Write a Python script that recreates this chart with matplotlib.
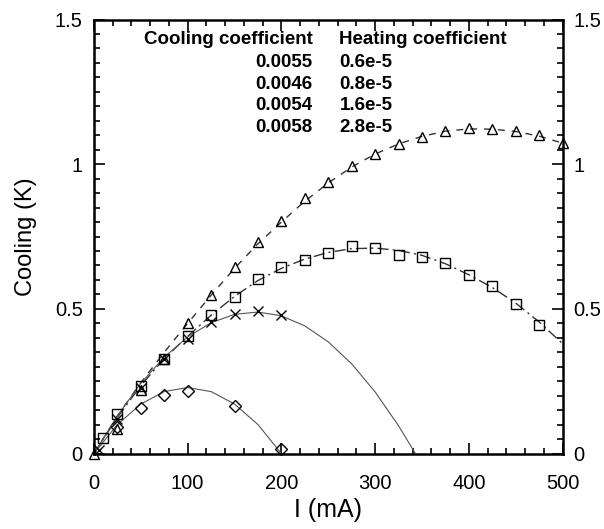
import matplotlib
matplotlib.use("Agg")
import matplotlib.pyplot as plt
from matplotlib.ticker import MultipleLocator, FuncFormatter

plt.rcParams['font.family'] = ['Liberation Sans', 'DejaVu Sans']

i_tri = [0, 25, 50, 75, 100, 125, 150, 175, 200, 225, 250, 275, 300, 325,
         350, 375, 400, 425, 450, 475, 500]
cool_tri = [0.0, 0.085, 0.22, 0.327, 0.452, 0.548, 0.644, 0.73, 0.802, 0.882,
            0.94, 0.994, 1.034, 1.069, 1.095, 1.115, 1.124, 1.122, 1.115,
            1.101, 1.073]

i_sq = [10, 25, 50, 75, 100, 125, 150, 175, 200, 225, 250, 275, 300, 325,
        350, 375, 400, 425, 450, 475]
cool_sq = [0.053, 0.137, 0.234, 0.325, 0.405, 0.479, 0.542, 0.603, 0.645,
           0.668, 0.694, 0.717, 0.711, 0.687, 0.678, 0.658, 0.618, 0.58,
           0.517, 0.444]

i_x = [5, 25, 50, 75, 100, 125, 150, 175, 200]
cool_x = [0.012, 0.12, 0.225, 0.325, 0.395, 0.456, 0.482, 0.492, 0.478]

i_dia = [25, 50, 75, 100, 150, 200]
cool_dia = [0.09, 0.159, 0.201, 0.215, 0.163, 0.015]

# fitted curves
fit_i = [0, 25, 50, 75, 100, 125, 150, 175, 200, 225, 250, 275, 300, 325,
         350, 375, 400, 425, 450, 475, 500]
fit_tri = [0.0, 0.13, 0.245, 0.35, 0.45, 0.547, 0.64, 0.725, 0.8, 0.872,
           0.935, 0.99, 1.035, 1.07, 1.096, 1.114, 1.122, 1.121, 1.113,
           1.097, 1.073]
fit_sq = [0.0, 0.125, 0.235, 0.328, 0.405, 0.478, 0.543, 0.598, 0.64, 0.672,
          0.695, 0.708, 0.71, 0.702, 0.685, 0.656, 0.618, 0.574, 0.52,
          0.455, 0.38]

fit_x_i = [0, 25, 50, 75, 100, 125, 150, 175, 200, 225, 250, 275, 300, 325,
           343]
fit_x = [0.0, 0.13, 0.243, 0.333, 0.403, 0.452, 0.481, 0.489, 0.476, 0.441,
         0.386, 0.31, 0.213, 0.096, 0.0]

fit_dia_i = [0, 25, 50, 75, 100, 125, 150, 175, 200]
fit_dia = [0.0, 0.1, 0.171, 0.214, 0.228, 0.214, 0.171, 0.1, 0.0]

cool_coef = ['0.0055', '0.0046', '0.0054', '0.0058']
heat_coef = ['0.6e-5', '0.8e-5', '1.6e-5', '2.8e-5']

fig = plt.figure(figsize=(6.04, 5.29), dpi=100)
ax = fig.add_axes([0.1556, 0.1427, 0.7757, 0.8204])

ax.plot(fit_i, fit_tri, color='#333333', lw=1.0, ls=(0, (5, 5)))
ax.plot(fit_i, fit_sq, color='#333333', lw=1.0, ls=(0, (8, 3, 1.5, 3)))
ax.plot(fit_x_i, fit_x, color='#555555', lw=0.8, ls='-')
ax.plot(fit_dia_i, fit_dia, color='#555555', lw=0.8, ls='-')

mk = dict(ls='none', mfc='none', mec='black', mew=1.0, clip_on=False)
ax.plot(i_tri, cool_tri, marker='^', ms=7.5, **mk)
ax.plot(i_sq, cool_sq, marker='s', ms=7.5, **mk)
ax.plot(i_x, cool_x, marker='x', ms=7.5, **mk)
ax.plot(i_dia, cool_dia, marker='D', ms=6, **mk)

# coefficient table
ax.text(0.467, 0.953, 'Cooling coefficient', transform=ax.transAxes,
        ha='right', va='center', fontsize=13.5, fontweight='bold')
ax.text(0.524, 0.953, 'Heating coefficient', transform=ax.transAxes,
        ha='left', va='center', fontsize=13.5, fontweight='bold')
for k in range(len(cool_coef)):
    yy = 0.900 - k * 0.0495
    ax.text(0.467, yy, cool_coef[k], transform=ax.transAxes,
            ha='right', va='center', fontsize=13.5, fontweight='bold')
    ax.text(0.524, yy, heat_coef[k], transform=ax.transAxes,
            ha='left', va='center', fontsize=13.5, fontweight='bold')

ax.set_xlim(0, 500)
ax.set_ylim(0, 1.5)
ax.xaxis.set_major_locator(MultipleLocator(100))
ax.xaxis.set_minor_locator(MultipleLocator(20))
ax.yaxis.set_major_locator(MultipleLocator(0.5))
ax.yaxis.set_minor_locator(MultipleLocator(0.05))
ax.yaxis.set_major_formatter(FuncFormatter(lambda v, p: '%g' % v))

ax.tick_params(which='both', direction='in', top=True, right=True,
               labelright=True, width=1.2, labelsize=14.5)
ax.tick_params(which='major', length=8)
ax.tick_params(which='minor', length=4)
ax.tick_params(axis='x', pad=15)
ax.tick_params(axis='y', pad=8)
for s in ax.spines.values():
    s.set_linewidth(1.8)

ax.set_xlabel('I (mA)', fontsize=18, labelpad=3)
ax.set_ylabel('Cooling (K)', fontsize=17, labelpad=13)

fig.savefig('out.png', dpi=100)
